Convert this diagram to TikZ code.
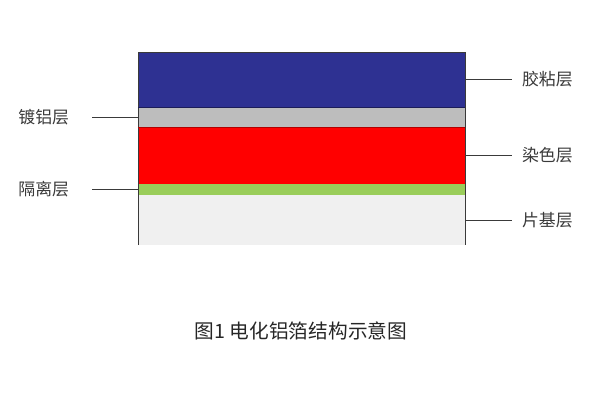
\documentclass[tikz,border=0pt]{standalone}
\usepackage{fontspec}
\setmainfont{Noto Sans CJK SC}
\usetikzlibrary{positioning}

\definecolor{glueblue}{HTML}{2E3192}
\definecolor{algray}{HTML}{BDBDBD}
\definecolor{dyered}{HTML}{FF0000}
\definecolor{sepgreen}{HTML}{9ACD5A}
\definecolor{basegray}{HTML}{F0F0F0}
\definecolor{inkgray}{HTML}{3A3A3A}

\begin{document}
\begin{tikzpicture}[
		x=0.025cm, y=-0.025cm,
		layer/.style={rectangle, draw=none, inner sep=0, outer sep=0, minimum width=8.175cm},
		tag/.style={font=\fontsize{12}{14}\selectfont, text=inkgray},
		lead/.style={draw=inkgray, line width=0.6pt}
	]
	\useasboundingbox (0,0) rectangle (600,400);

	% Layers, top to bottom
	\node[layer, fill=glueblue, minimum height=1.375cm, anchor=north west] (glue) at (138,52) {};
	\node[layer, fill=algray, minimum height=0.5cm, below=0 of glue] (alum) {};
	\node[layer, fill=dyered, minimum height=1.425cm, below=0 of alum] (dye) {};
	\node[layer, fill=sepgreen, minimum height=0.275cm, below=0 of dye] (sep) {};
	\node[layer, fill=basegray, minimum height=1.25cm, below=0 of sep] (base) {};

	% Outline
	\draw[lead, line width=0.4pt] (base.south west) -- (glue.north west) -- (glue.north east) -- (base.south east);
	\draw[glueblue!60!black, line width=0.4pt] (glue.south west) -- (glue.south east);
	\draw[dyered!70!black, line width=0.3pt] (alum.south west) -- (alum.south east);

	% Labels, left
	\node[tag, left=1.6cm of alum] (tagal) {镀铝层};
	\node[tag, left=1.6cm of sep] (tagsep) {隔离层};

	% Labels, right
	\node[tag, right=1.3cm of glue] (tagglue) {胶粘层};
	\node[tag, right=1.3cm of dye] (tagdye) {染色层};
	\node[tag, right=1.3cm of base] (tagbase) {片基层};

	% Leaders
	\draw[lead, shorten >=0.45cm] (alum.west) -- (tagal.east);
	\draw[lead, shorten >=0.45cm] (sep.west) -- (tagsep.east);
	\draw[lead, shorten >=0.12cm] (glue.east) -- (tagglue.west);
	\draw[lead, shorten >=0.12cm] (dye.east) -- (tagdye.west);
	\draw[lead, shorten >=0.12cm] (base.east) -- (tagbase.west);

	% Caption
	\node[tag, font=\fontsize{14}{16}\selectfont, text=black!85] (caption) at (301,331) {图1\ 电化铝箔结构示意图};

\end{tikzpicture}
\end{document}
